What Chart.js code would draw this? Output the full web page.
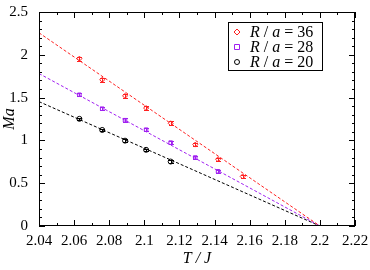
<!DOCTYPE html>
<html>
<head>
<meta charset="utf-8">
<script src="https://cdn.jsdelivr.net/npm/chart.js@4/dist/chart.umd.min.js"></script>
<style>
  html, body { margin: 0; padding: 0; background: #fff; }
  #wrap { width: 370px; height: 270px; }
</style>
</head>
<body>
<div id="wrap"><canvas id="c" width="370" height="270"></canvas></div>
<script>
// ── Data ──────────────────────────────────────────────────
const tR36 = [2.063, 2.076, 2.089, 2.101, 2.115, 2.129, 2.142, 2.156];
const mR36 = [1.955, 1.708, 1.52, 1.378, 1.20, 0.951, 0.78, 0.579];
const eR36 = [0.025, 0.025, 0.025, 0.02, 0.025, 0.02, 0.02, 0.015];

const tR28 = [2.063, 2.076, 2.089, 2.101, 2.115, 2.129, 2.142];
const mR28 = [1.533, 1.37, 1.236, 1.125, 0.974, 0.80, 0.639];
const eR28 = [0.02, 0.02, 0.02, 0.02, 0.02, 0.015, 0.015];

const tR20 = [2.063, 2.076, 2.089, 2.101, 2.115];
const mR20 = [1.252, 1.122, 0.997, 0.89, 0.753];
const eR20 = [0.015, 0.015, 0.015, 0.015, 0.015];

// fitted lines (end points)
const fitT   = [2.04, 2.2];
const fitR36 = [2.257, 0];
const fitR28 = [1.781, 0];
const fitR20 = [1.453, 0];

const xTicks = [2.04, 2.06, 2.08, 2.1, 2.12, 2.14, 2.16, 2.18, 2.2, 2.22];
const yTicks = [0, 0.5, 1, 1.5, 2, 2.5];
const legendNames = ['36', '28', '20'];

const RED = '#ff2020', VIO = '#a020f0', BLK = '#000000';
const SERIF = '"Liberation Serif", "Times New Roman", Tinos, "DejaVu Serif", serif';

const pts = (xs, ys) => xs.map((x, i) => ({ x, y: ys[i] }));

// ── Plugins ───────────────────────────────────────────────
const frame = {
  id: 'frame',
  afterDraw(chart) {
    const { ctx, chartArea: a, scales: { x, y } } = chart;
    ctx.save();
    ctx.strokeStyle = '#000';
    ctx.lineWidth = 1;
    ctx.strokeRect(a.left + 0.5, a.top + 0.5, a.right - a.left - 1, a.bottom - a.top - 1);
    ctx.beginPath();
    // x ticks (major every 0.02, minor every 0.01)
    for (let i = 0; i <= 18; i++) {
      const px = Math.round(x.getPixelForValue(2.04 + i * 0.01)) + 0.5;
      const len = i % 2 === 0 ? 6 : 3;
      ctx.moveTo(px, a.bottom); ctx.lineTo(px, a.bottom - len);
      ctx.moveTo(px, a.top);    ctx.lineTo(px, a.top + len);
    }
    // y ticks (major every 0.5, minor every 0.1)
    for (let i = 0; i <= 25; i++) {
      const py = Math.round(y.getPixelForValue(i * 0.1)) + 0.5;
      const len = i % 5 === 0 ? 6 : 3;
      ctx.moveTo(a.left, py);  ctx.lineTo(a.left + len, py);
      ctx.moveTo(a.right, py); ctx.lineTo(a.right - len, py);
    }
    ctx.stroke();
    ctx.restore();
  },
};

const errorBars = {
  id: 'errorBars',
  afterDatasetsDraw(chart) {
    const { ctx, scales: { y } } = chart;
    ctx.save();
    ctx.lineWidth = 1;
    chart.data.datasets.forEach((ds, di) => {
      if (!ds.err) return;
      const meta = chart.getDatasetMeta(di);
      ctx.strokeStyle = ds.borderColor;
      meta.data.forEach((el, i) => {
        const v = ds.data[i].y;
        const top = Math.round(y.getPixelForValue(v + ds.err[i])) + 0.5;
        const bot = Math.round(y.getPixelForValue(v - ds.err[i])) + 0.5;
        const cx = Math.round(el.x) + 0.5;
        ctx.beginPath();
        ctx.moveTo(cx, top); ctx.lineTo(cx, bot);
        ctx.moveTo(cx - 2.5, top); ctx.lineTo(cx + 2.5, top);
        ctx.moveTo(cx - 2.5, bot); ctx.lineTo(cx + 2.5, bot);
        ctx.stroke();
      });
    });
    ctx.restore();
  },
};

const legendBox = {
  id: 'legendBox',
  afterDraw(chart) {
    const { ctx } = chart;
    const colors = [RED, VIO, BLK];
    const styles = ['rectRot', 'rect', 'circle'];
    ctx.save();
    ctx.fillStyle = '#fff';
    ctx.fillRect(228, 22, 95, 49);
    ctx.strokeStyle = '#000';
    ctx.lineWidth = 1;
    ctx.strokeRect(228.5, 22.5, 94, 48);
    ctx.textBaseline = 'alphabetic';
    legendNames.forEach((n, i) => {
      const yy = 37 + i * 15;
      ctx.strokeStyle = colors[i];
      ctx.lineWidth = 1;
      ctx.beginPath();
      if (styles[i] === 'rectRot') {
        ctx.moveTo(237, yy - 8); ctx.lineTo(240, yy - 5); ctx.lineTo(237, yy - 2); ctx.lineTo(234, yy - 5); ctx.closePath();
      } else if (styles[i] === 'rect') {
        ctx.rect(234.5, yy - 7.5, 5, 5);
      } else {
        ctx.arc(237, yy - 5, 2.5, 0, Math.PI * 2);
      }
      ctx.stroke();
      ctx.fillStyle = '#000';
      let xx = 250;
      const parts = [['R', true], [' / ', false], ['a', true], [' = ' + n, false]];
      parts.forEach(([t, it]) => {
        ctx.font = (it ? 'italic ' : '') + '16px ' + SERIF;
        ctx.fillText(t, xx, yy);
        xx += ctx.measureText(t).width;
      });
    });
    ctx.restore();
  },
};

// ── Chart ─────────────────────────────────────────────────
const series = (label, xs, ys, err, color, style) => ({
  label, data: pts(xs, ys), err,
  showLine: false,
  borderColor: color, backgroundColor: 'rgba(255,255,255,0)',
  pointBackgroundColor: 'rgba(255,255,255,0)',
  pointStyle: style, pointRadius: 2.5, pointBorderWidth: 1,
});
const fit = (ys, color) => ({
  data: pts(fitT, ys), showLine: true,
  borderColor: color, borderWidth: 1, borderDash: [3, 2],
  pointRadius: 0, fill: false,
});

new Chart(document.getElementById('c'), {
  type: 'scatter',
  data: {
    datasets: [
      fit(fitR36, RED), fit(fitR28, VIO), fit(fitR20, BLK),
      series('R / a = 36', tR36, mR36, eR36, RED, 'rectRot'),
      series('R / a = 28', tR28, mR28, eR28, VIO, 'rect'),
      series('R / a = 20', tR20, mR20, eR20, BLK, 'circle'),
    ],
  },
  options: {
    responsive: false,
    animation: false,
    layout: { padding: { top: 7, right: 15, left: 0, bottom: 0 } },
    plugins: { legend: { display: false }, tooltip: { enabled: false } },
    scales: {
      x: {
        type: 'linear', min: 2.04, max: 2.22,
        afterBuildTicks: s => { s.ticks = xTicks.map(v => ({ value: v })); },
        afterFit: s => { s.height = 44; },
        grid: { display: false },
        border: { display: false },
        ticks: {
          color: '#000', padding: 0, maxRotation: 0, autoSkip: false,
          font: { family: SERIF, size: 15, lineHeight: 1 },
          callback: v => String(+v.toFixed(2)),
        },
        title: {
          display: true, text: 'T / J', color: '#000', padding: { top: 4, bottom: 2 },
          font: { family: SERIF, size: 16, style: 'italic' },
        },
      },
      y: {
        type: 'linear', min: 0, max: 2.5,
        afterBuildTicks: s => { s.ticks = yTicks.map(v => ({ value: v })); },
        afterFit: s => { s.width = 39; },
        grid: { display: false },
        border: { display: false },
        ticks: {
          color: '#000', padding: 3, autoSkip: false,
          font: { family: SERIF, size: 15 },
          callback: v => String(+v.toFixed(1)),
        },
        title: {
          display: true, text: 'Ma', color: '#000', padding: { top: 0, bottom: 0 },
          font: { family: SERIF, size: 16, style: 'italic' },
        },
      },
    },
  },
  plugins: [frame, errorBars, legendBox],
});
</script>
</body>
</html>
